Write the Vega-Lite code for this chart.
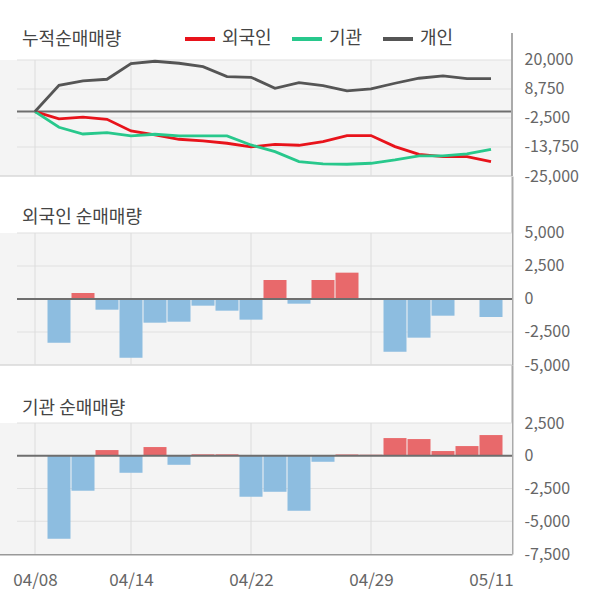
{
  "$schema": "https://vega.github.io/schema/vega-lite/v6.json",
  "background": "white",
  "padding": {"left": -2, "top": 20, "right": 0, "bottom": 10},
  "bounds": "flush",
  "spacing": 0,
  "config": {
    "view": {"stroke": null},
    "axis": {"labelFont": "Noto Sans CJK KR", "labelFontSize": 16, "labelColor": "#666666", "ticks": false, "grid": false, "domainColor": "#aaaaaa", "domainWidth": 2, "labelPadding": 12}
  },
  "datasets": {
    "one": [{}],
    "cum": [
      {"i": 0, "date": "04/08", "investor": "외국인", "v": 0},
      {"i": 1, "date": "04/09", "investor": "외국인", "v": -2870},
      {"i": 2, "date": "04/10", "investor": "외국인", "v": -2200},
      {"i": 3, "date": "04/13", "investor": "외국인", "v": -3000},
      {"i": 4, "date": "04/14", "investor": "외국인", "v": -7530},
      {"i": 5, "date": "04/16", "investor": "외국인", "v": -9080},
      {"i": 6, "date": "04/17", "investor": "외국인", "v": -10750},
      {"i": 7, "date": "04/20", "investor": "외국인", "v": -11400},
      {"i": 8, "date": "04/21", "investor": "외국인", "v": -12300},
      {"i": 9, "date": "04/22", "investor": "외국인", "v": -13730},
      {"i": 10, "date": "04/23", "investor": "외국인", "v": -12700},
      {"i": 11, "date": "04/24", "investor": "외국인", "v": -13080},
      {"i": 12, "date": "04/27", "investor": "외국인", "v": -11650},
      {"i": 13, "date": "04/28", "investor": "외국인", "v": -9300},
      {"i": 14, "date": "04/29", "investor": "외국인", "v": -9300},
      {"i": 15, "date": "05/04", "investor": "외국인", "v": -13600},
      {"i": 16, "date": "05/06", "investor": "외국인", "v": -16570},
      {"i": 17, "date": "05/07", "investor": "외국인", "v": -17470},
      {"i": 18, "date": "05/08", "investor": "외국인", "v": -17470},
      {"i": 19, "date": "05/11", "investor": "외국인", "v": -19400},
      {"i": 0, "date": "04/08", "investor": "기관", "v": 0},
      {"i": 1, "date": "04/09", "investor": "기관", "v": -6100},
      {"i": 2, "date": "04/10", "investor": "기관", "v": -8700},
      {"i": 3, "date": "04/13", "investor": "기관", "v": -8150},
      {"i": 4, "date": "04/14", "investor": "기관", "v": -9470},
      {"i": 5, "date": "04/16", "investor": "기관", "v": -8800},
      {"i": 6, "date": "04/17", "investor": "기관", "v": -9470},
      {"i": 7, "date": "04/20", "investor": "기관", "v": -9470},
      {"i": 8, "date": "04/21", "investor": "기관", "v": -9470},
      {"i": 9, "date": "04/22", "investor": "기관", "v": -12950},
      {"i": 10, "date": "04/23", "investor": "기관", "v": -15550},
      {"i": 11, "date": "04/24", "investor": "기관", "v": -19400},
      {"i": 12, "date": "04/27", "investor": "기관", "v": -20330},
      {"i": 13, "date": "04/28", "investor": "기관", "v": -20450},
      {"i": 14, "date": "04/29", "investor": "기관", "v": -20060},
      {"i": 15, "date": "05/04", "investor": "기관", "v": -18780},
      {"i": 16, "date": "05/06", "investor": "기관", "v": -17230},
      {"i": 17, "date": "05/07", "investor": "기관", "v": -17230},
      {"i": 18, "date": "05/08", "investor": "기관", "v": -16450},
      {"i": 19, "date": "05/11", "investor": "기관", "v": -14630},
      {"i": 0, "date": "04/08", "investor": "개인", "v": 0},
      {"i": 1, "date": "04/09", "investor": "개인", "v": 10200},
      {"i": 2, "date": "04/10", "investor": "개인", "v": 11870},
      {"i": 3, "date": "04/13", "investor": "개인", "v": 12530},
      {"i": 4, "date": "04/14", "investor": "개인", "v": 18580},
      {"i": 5, "date": "04/16", "investor": "개인", "v": 19510},
      {"i": 6, "date": "04/17", "investor": "개인", "v": 18740},
      {"i": 7, "date": "04/20", "investor": "개인", "v": 17420},
      {"i": 8, "date": "04/21", "investor": "개인", "v": 13540},
      {"i": 9, "date": "04/22", "investor": "개인", "v": 13300},
      {"i": 10, "date": "04/23", "investor": "개인", "v": 9040},
      {"i": 11, "date": "04/24", "investor": "개인", "v": 11200},
      {"i": 12, "date": "04/27", "investor": "개인", "v": 10050},
      {"i": 13, "date": "04/28", "investor": "개인", "v": 7990},
      {"i": 14, "date": "04/29", "investor": "개인", "v": 8770},
      {"i": 15, "date": "05/04", "investor": "개인", "v": 10980},
      {"i": 16, "date": "05/06", "investor": "개인", "v": 12920},
      {"i": 17, "date": "05/07", "investor": "개인", "v": 13810},
      {"i": 18, "date": "05/08", "investor": "개인", "v": 12760},
      {"i": 19, "date": "05/11", "investor": "개인", "v": 12760}
    ],
    "foreign": [
      {"i": 0, "date": "04/08", "v": 0},
      {"i": 1, "date": "04/09", "v": -3310},
      {"i": 2, "date": "04/10", "v": 455},
      {"i": 3, "date": "04/13", "v": -810},
      {"i": 4, "date": "04/14", "v": -4445},
      {"i": 5, "date": "04/16", "v": -1795},
      {"i": 6, "date": "04/17", "v": -1720},
      {"i": 7, "date": "04/20", "v": -505},
      {"i": 8, "date": "04/21", "v": -885},
      {"i": 9, "date": "04/22", "v": -1565},
      {"i": 10, "date": "04/23", "v": 1440},
      {"i": 11, "date": "04/24", "v": -355},
      {"i": 12, "date": "04/27", "v": 1440},
      {"i": 13, "date": "04/28", "v": 1995},
      {"i": 14, "date": "04/29", "v": 0},
      {"i": 15, "date": "05/04", "v": -3990},
      {"i": 16, "date": "05/06", "v": -2930},
      {"i": 17, "date": "05/07", "v": -1265},
      {"i": 18, "date": "05/08", "v": 0},
      {"i": 19, "date": "05/11", "v": -1365}
    ],
    "inst": [
      {"i": 0, "date": "04/08", "v": 0},
      {"i": 1, "date": "04/09", "v": -6335},
      {"i": 2, "date": "04/10", "v": -2670},
      {"i": 3, "date": "04/13", "v": 435},
      {"i": 4, "date": "04/14", "v": -1300},
      {"i": 5, "date": "04/16", "v": 665},
      {"i": 6, "date": "04/17", "v": -690},
      {"i": 7, "date": "04/20", "v": 110},
      {"i": 8, "date": "04/21", "v": 110},
      {"i": 9, "date": "04/22", "v": -3130},
      {"i": 10, "date": "04/23", "v": -2750},
      {"i": 11, "date": "04/24", "v": -4200},
      {"i": 12, "date": "04/27", "v": -460},
      {"i": 13, "date": "04/28", "v": 100},
      {"i": 14, "date": "04/29", "v": 80},
      {"i": 15, "date": "05/04", "v": 1350},
      {"i": 16, "date": "05/06", "v": 1275},
      {"i": 17, "date": "05/07", "v": 360},
      {"i": 18, "date": "05/08", "v": 740},
      {"i": 19, "date": "05/11", "v": 1580}
    ],
    "vgrid": [{"i": 0}, {"i": 4}, {"i": 9}, {"i": 14}],
    "hgrid1": [{"v": 20000}, {"v": 8750}, {"v": -2500}, {"v": -13750}],
    "hgrid2": [{"v": 5000}, {"v": 2500}, {"v": -2500}],
    "hgrid3": [{"v": 2500}, {"v": -2500}, {"v": -5000}]
  },
  "vconcat": [
    {
      "width": 513,
      "height": 156,
      "layer": [
        {
          "data": {"name": "one"},
          "mark": {"type": "rect", "color": "#f4f4f4"},
          "encoding": {
            "x": {"datum": -1.5, "type": "quantitative", "scale": {"domain": [-1.5, 19.875], "nice": false, "zero": false, "padding": 0}, "axis": null},
            "x2": {"datum": 19.875},
            "y": {"datum": -25000, "type": "quantitative", "scale": {"domain": [-25000, 35517], "nice": false, "zero": false, "padding": 0}, "axis": {"orient": "right", "values": [20000, 8750, -2500, -13750, -25000], "title": null, "domain": false, "labelExpr": "replace(format(datum.value, ','), '\u2212', '-')"}},
            "y2": {"datum": 20000}
          }
        },
        {
          "data": {"name": "hgrid1"},
          "mark": {"type": "rule", "color": "#e0e0e0", "strokeWidth": 1},
          "encoding": {
            "x": {"datum": -0.75, "type": "quantitative", "axis": null},
            "x2": {"datum": 19.875},
            "y": {"field": "v", "type": "quantitative", "axis": {"orient": "right", "values": [20000, 8750, -2500, -13750, -25000], "title": null, "domain": false, "labelExpr": "replace(format(datum.value, ','), '\u2212', '-')"}}
          }
        },
        {
          "data": {"name": "one"},
          "mark": {"type": "rule", "color": "#d8d8d8", "strokeWidth": 1.5},
          "encoding": {
            "x": {"datum": -1.5, "type": "quantitative", "axis": null},
            "x2": {"datum": 19.875},
            "y": {"datum": -25000, "type": "quantitative", "axis": {"orient": "right", "values": [20000, 8750, -2500, -13750, -25000], "title": null, "domain": false, "labelExpr": "replace(format(datum.value, ','), '\u2212', '-')"}}
          }
        },
        {
          "data": {"name": "vgrid"},
          "mark": {"type": "rule", "color": "#dcdcdc", "strokeWidth": 1},
          "encoding": {
            "x": {"field": "i", "type": "quantitative", "axis": null},
            "y": {"datum": -25000, "type": "quantitative", "axis": {"orient": "right", "values": [20000, 8750, -2500, -13750, -25000], "title": null, "domain": false, "labelExpr": "replace(format(datum.value, ','), '\u2212', '-')"}},
            "y2": {"datum": 20000}
          }
        },
        {
          "data": {"name": "one"},
          "mark": {"type": "rule", "color": "#6e6e6e", "strokeWidth": 2},
          "encoding": {
            "x": {"datum": -0.75, "type": "quantitative", "axis": null},
            "x2": {"datum": 19.875},
            "y": {"datum": 0, "type": "quantitative", "axis": {"orient": "right", "values": [20000, 8750, -2500, -13750, -25000], "title": null, "domain": false, "labelExpr": "replace(format(datum.value, ','), '\u2212', '-')"}}
          }
        },
        {
          "data": {"name": "one"},
          "mark": {"type": "rule", "color": "#aaaaaa", "strokeWidth": 2},
          "encoding": {
            "x": {"datum": 19.875, "type": "quantitative", "axis": null},
            "y": {"datum": 30474, "type": "quantitative", "axis": {"orient": "right", "values": [20000, 8750, -2500, -13750, -25000], "title": null, "domain": false, "labelExpr": "replace(format(datum.value, ','), '\u2212', '-')"}},
            "y2": {"datum": -25000}
          }
        },
        {
          "data": {"name": "cum"},
          "mark": {"type": "line", "strokeWidth": 2.8},
          "encoding": {
            "x": {"field": "i", "type": "quantitative", "axis": null},
            "y": {"field": "v", "type": "quantitative", "axis": {"orient": "right", "values": [20000, 8750, -2500, -13750, -25000], "title": null, "domain": false, "labelExpr": "replace(format(datum.value, ','), '\u2212', '-')"}},
            "color": {
              "field": "investor", "type": "nominal",
              "scale": {"domain": ["외국인", "기관", "개인"], "range": ["#e8131b", "#28c88c", "#555555"]},
              "legend": {"orient": "none", "legendX": 184, "legendY": 2, "direction": "horizontal", "title": null, "symbolType": "stroke", "symbolSize": 900, "symbolStrokeWidth": 4, "labelFontSize": 18, "labelFont": "Noto Sans CJK KR", "labelColor": "#444444", "columnPadding": 12, "labelOffset": 5, "padding": 0}
            }
          }
        },
        {
          "data": {"name": "one"},
          "mark": {"type": "text", "text": "누적순매매량", "align": "left", "baseline": "middle", "font": "Noto Sans CJK KR", "fontSize": 18, "color": "#444444"},
          "encoding": {
            "x": {"datum": -0.54, "type": "quantitative", "axis": null},
            "y": {"datum": 27758, "type": "quantitative", "axis": {"orient": "right", "values": [20000, 8750, -2500, -13750, -25000], "title": null, "domain": false, "labelExpr": "replace(format(datum.value, ','), '\u2212', '-')"}}
          }
        }
      ]
    },
    {
      "width": 513,
      "height": 189,
      "layer": [
        {
          "data": {"name": "one"},
          "mark": {"type": "rect", "color": "#f4f4f4"},
          "encoding": {
            "x": {"datum": -1.5, "type": "quantitative", "scale": {"domain": [-1.5, 19.875], "nice": false, "zero": false, "padding": 0}, "axis": null},
            "x2": {"datum": 19.875},
            "y": {"datum": -5000, "type": "quantitative", "scale": {"domain": [-5000, 9318], "nice": false, "zero": false, "padding": 0}, "axis": {"orient": "right", "values": [5000, 2500, 0, -2500, -5000], "title": null, "labelExpr": "replace(format(datum.value, ','), '\u2212', '-')"}},
            "y2": {"datum": 5000}
          }
        },
        {
          "data": {"name": "hgrid2"},
          "mark": {"type": "rule", "color": "#e0e0e0", "strokeWidth": 1},
          "encoding": {
            "x": {"datum": -0.75, "type": "quantitative", "axis": null},
            "x2": {"datum": 19.875},
            "y": {"field": "v", "type": "quantitative", "axis": {"orient": "right", "values": [5000, 2500, 0, -2500, -5000], "title": null, "labelExpr": "replace(format(datum.value, ','), '\u2212', '-')"}}
          }
        },
        {
          "data": {"name": "one"},
          "mark": {"type": "rule", "color": "#d8d8d8", "strokeWidth": 1.5},
          "encoding": {
            "x": {"datum": -1.5, "type": "quantitative", "axis": null},
            "x2": {"datum": 19.875},
            "y": {"datum": -5000, "type": "quantitative", "axis": {"orient": "right", "values": [5000, 2500, 0, -2500, -5000], "title": null, "labelExpr": "replace(format(datum.value, ','), '\u2212', '-')"}}
          }
        },
        {
          "data": {"name": "vgrid"},
          "mark": {"type": "rule", "color": "#dcdcdc", "strokeWidth": 1},
          "encoding": {
            "x": {"field": "i", "type": "quantitative", "axis": null},
            "y": {"datum": -5000, "type": "quantitative", "axis": {"orient": "right", "values": [5000, 2500, 0, -2500, -5000], "title": null, "labelExpr": "replace(format(datum.value, ','), '\u2212', '-')"}},
            "y2": {"datum": 5000}
          }
        },
        {
          "data": {"name": "foreign"},
          "mark": {"type": "bar", "width": 23},
          "encoding": {
            "x": {"field": "i", "type": "quantitative", "axis": null},
            "y": {"field": "v", "type": "quantitative", "axis": {"orient": "right", "values": [5000, 2500, 0, -2500, -5000], "title": null, "labelExpr": "replace(format(datum.value, ','), '\u2212', '-')"}},
            "color": {"condition": {"test": "datum.v > 0", "value": "#e8696b"}, "value": "#8dbde0"}
          }
        },
        {
          "data": {"name": "one"},
          "mark": {"type": "rule", "color": "#6e6e6e", "strokeWidth": 2},
          "encoding": {
            "x": {"datum": -0.75, "type": "quantitative", "axis": null},
            "x2": {"datum": 19.875},
            "y": {"datum": 0, "type": "quantitative", "axis": {"orient": "right", "values": [5000, 2500, 0, -2500, -5000], "title": null, "labelExpr": "replace(format(datum.value, ','), '\u2212', '-')"}}
          }
        },
        {
          "data": {"name": "one"},
          "mark": {"type": "text", "text": "외국인 순매매량", "align": "left", "baseline": "middle", "font": "Noto Sans CJK KR", "fontSize": 18, "color": "#444444"},
          "encoding": {
            "x": {"datum": -0.54, "type": "quantitative", "axis": null},
            "y": {"datum": 6136, "type": "quantitative", "axis": {"orient": "right", "values": [5000, 2500, 0, -2500, -5000], "title": null, "labelExpr": "replace(format(datum.value, ','), '\u2212', '-')"}}
          }
        }
      ]
    },
    {
      "width": 513,
      "height": 189,
      "layer": [
        {
          "data": {"name": "one"},
          "mark": {"type": "rect", "color": "#f4f4f4"},
          "encoding": {
            "x": {"datum": -1.5, "type": "quantitative", "scale": {"domain": [-1.5, 19.875], "nice": false, "zero": false, "padding": 0}, "axis": {"values": [0, 4, 9, 14, 19], "title": null, "labelPadding": 18, "labelFontSize": 17, "domainColor": "#999999", "labelAngle": 0, "labelExpr": "datum.value == 0 ? '04/08' : datum.value == 4 ? '04/14' : datum.value == 9 ? '04/22' : datum.value == 14 ? '04/29' : '05/11'"}},
            "x2": {"datum": 19.875},
            "y": {"datum": -7500, "type": "quantitative", "scale": {"domain": [-7500, 6928], "nice": false, "zero": false, "padding": 0}, "axis": {"orient": "right", "values": [2500, 0, -2500, -5000, -7500], "title": null, "labelExpr": "replace(format(datum.value, ','), '\u2212', '-')"}},
            "y2": {"datum": 2500}
          }
        },
        {
          "data": {"name": "hgrid3"},
          "mark": {"type": "rule", "color": "#e0e0e0", "strokeWidth": 1},
          "encoding": {
            "x": {"datum": -0.75, "type": "quantitative"},
            "x2": {"datum": 19.875},
            "y": {"field": "v", "type": "quantitative"}
          }
        },
        {
          "data": {"name": "vgrid"},
          "mark": {"type": "rule", "color": "#dcdcdc", "strokeWidth": 1},
          "encoding": {
            "x": {"field": "i", "type": "quantitative"},
            "y": {"datum": -7500, "type": "quantitative"},
            "y2": {"datum": 2500}
          }
        },
        {
          "data": {"name": "inst"},
          "mark": {"type": "bar", "width": 23},
          "encoding": {
            "x": {"field": "i", "type": "quantitative"},
            "y": {"field": "v", "type": "quantitative"},
            "color": {"condition": {"test": "datum.v > 0", "value": "#e8696b"}, "value": "#8dbde0"}
          }
        },
        {
          "data": {"name": "one"},
          "mark": {"type": "rule", "color": "#6e6e6e", "strokeWidth": 2},
          "encoding": {
            "x": {"datum": -0.75, "type": "quantitative"},
            "x2": {"datum": 19.875},
            "y": {"datum": 0, "type": "quantitative"}
          }
        },
        {
          "data": {"name": "one"},
          "mark": {"type": "text", "text": "기관 순매매량", "align": "left", "baseline": "middle", "font": "Noto Sans CJK KR", "fontSize": 18, "color": "#444444"},
          "encoding": {
            "x": {"datum": -0.54, "type": "quantitative"},
            "y": {"datum": 3531, "type": "quantitative"}
          }
        }
      ]
    }
  ]
}
